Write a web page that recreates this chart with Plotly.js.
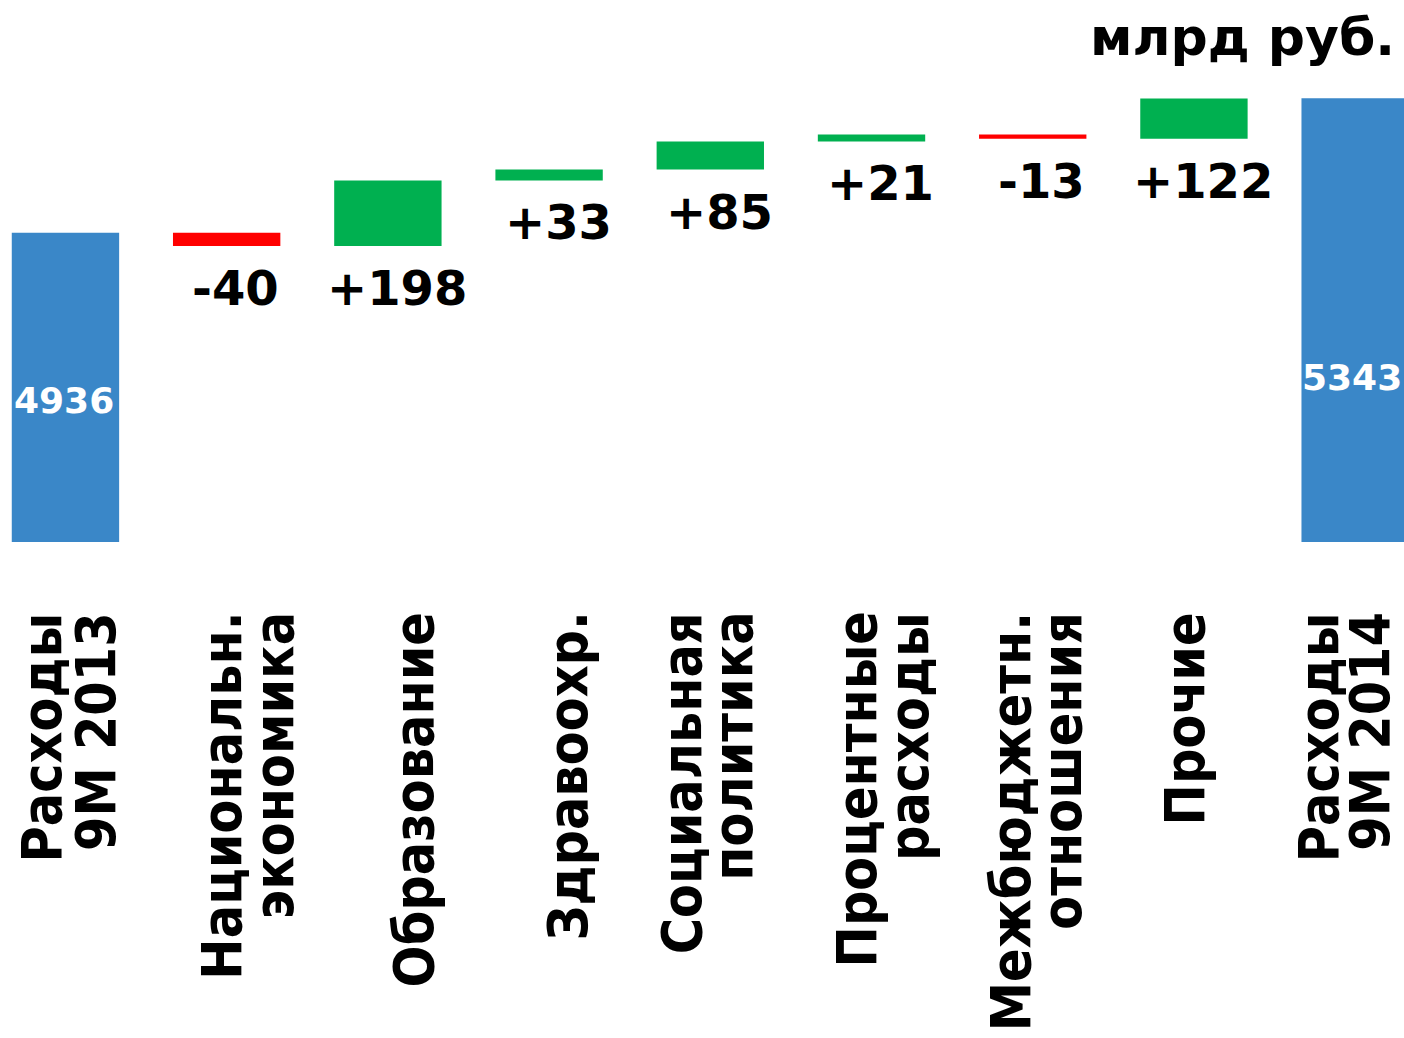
<!DOCTYPE html>
<html>
<head>
<meta charset="utf-8">
<script src="https://cdn.plot.ly/plotly-3.0.1.min.js"></script>
<style>html,body{margin:0;padding:0;background:#fff;}#chart{width:1404px;height:1038px;}</style>
</head>
<body>
<div id="chart"></div>
<script>
// ---- data ----
var categoryLines = [
  ["Расходы", "9М 2013"],
  ["Национальн.", "экономика"],
  ["Образование"],
  ["Здравоохр."],
  ["Социальная", "политика"],
  ["Процентные", "расходы"],
  ["Межбюджетн.", "отношения"],
  ["Прочие"],
  ["Расходы", "9М 2014"]
];
var measures = ["absolute", "relative", "relative", "relative", "relative", "relative", "relative", "relative", "absolute"];
var values = [4936, -40, 198, 33, 85, 21, -13, 122, 5343];
var unitLabel = "млрд руб.";

// ---- style / layout helpers ----
var BLUE = "#3A87C8", GREEN = "#00B050", RED = "#FF0000";
var axisBase = 4000;
// horizontal offsets (px) of each label line relative to category centre
var lineShift = [[-23, 30], [-5, 47], [26], [18], [-28, 22], [-15, 37], [-22, 29], [-9], [-36, 14]];
// vertical placement (data units) and x nudges of the total-bar labels
var totalLabelY = [4429, null, null, null, null, null, null, null, 4497];
var totalLabelShift = [-1, 0, 0, 0, 0, 0, 0, 0, -3];

var xIdx = values.map(function (_, i) { return i; });

var trace = {
  type: "waterfall",
  x: xIdx,
  y: values,
  measure: measures,
  base: 0,
  textinfo: "none",
  hoverinfo: "skip",
  connector: { visible: false },
  increasing: { marker: { color: GREEN, line: { width: 0 } } },
  decreasing: { marker: { color: RED, line: { width: 0 } } },
  totals: { marker: { color: BLUE, line: { width: 0 } } }
};

var annotations = [];
var running = 0;
for (var i = 0; i < values.length; i++) {
  if (measures[i] === "absolute") {
    running = values[i];
    annotations.push({
      x: i, y: totalLabelY[i], xref: "x", yref: "y",
      text: String(values[i]), showarrow: false,
      xanchor: "center", yanchor: "middle", xshift: totalLabelShift[i],
      font: { family: "DejaVu Sans", weight: "bold", size: 36, color: "#ffffff" }
    });
  } else {
    var before = running;
    running += values[i];
    var lower = Math.min(before, running);
    annotations.push({
      x: i, y: lower, xref: "x", yref: "y",
      text: (values[i] > 0 ? "+" : "") + values[i], showarrow: false,
      xanchor: "center", yanchor: "top", xshift: 9, yshift: -12,
      font: { family: "DejaVu Sans", weight: "bold", size: 48, color: "#000000" }
    });
  }
}
categoryLines.forEach(function (lines, i) {
  lines.forEach(function (line, j) {
    annotations.push({
      x: i, y: 0, xref: "x", yref: "paper",
      text: line, showarrow: false, textangle: -90,
      xanchor: "center", yanchor: "top", borderpad: 0,
      xshift: lineShift[i][j], yshift: -69,
      font: { family: "DejaVu Sans Condensed", weight: "bold", size: 55, color: "#000000" }
    });
  });
});

var layout = {
  width: 1404, height: 1038,
  margin: { l: 0, r: 0, t: 0, b: 496 },
  paper_bgcolor: "#ffffff", plot_bgcolor: "#ffffff",
  showlegend: false,
  waterfallgap: 0.334,
  title: {
    text: unitLabel,
    xref: "container", yref: "container",
    x: 0.9936, xanchor: "right",
    y: 0.9645, yanchor: "middle",
    font: { family: "DejaVu Sans", weight: "bold", size: 52, color: "#000000" }
  },
  xaxis: {
    range: [-0.406, 8.303], showticklabels: false, showgrid: false,
    zeroline: false, showline: false, ticks: "", fixedrange: true
  },
  yaxis: {
    range: [axisBase, 5640], showticklabels: false, showgrid: false,
    zeroline: false, showline: false, ticks: "", fixedrange: true
  },
  annotations: annotations
};

Plotly.newPlot("chart", [trace], layout, { displayModeBar: false, staticPlot: true });
</script>
</body>
</html>
